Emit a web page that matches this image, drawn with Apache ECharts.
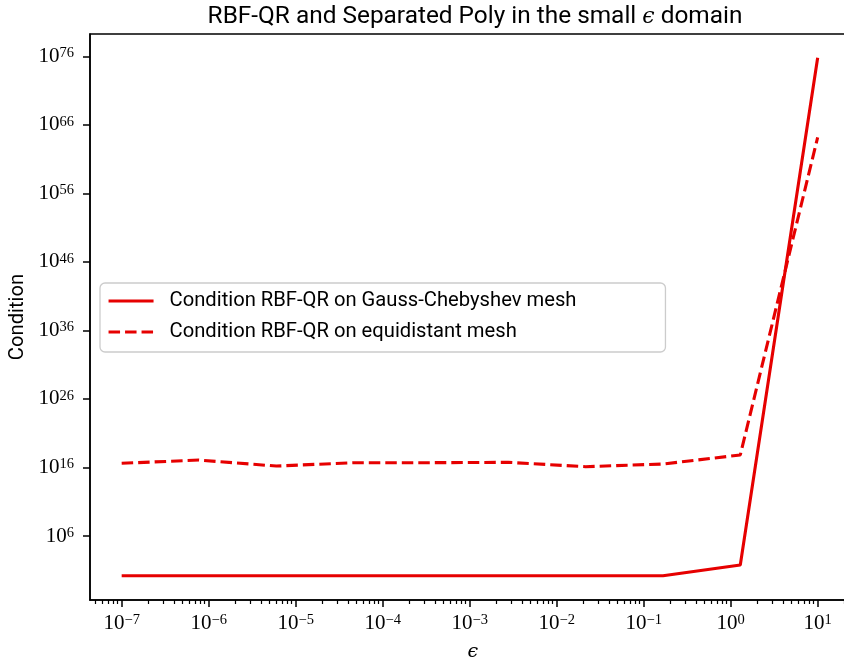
<!DOCTYPE html>
<html><head><meta charset="utf-8">
<script src="https://cdn.jsdelivr.net/npm/echarts@6/dist/echarts.min.js"></script>
<style>html,body{margin:0;padding:0;background:#fff}#c{width:844px;height:658px}</style>
</head><body><div id="c"></div>
<script>
// ---- data ----
const epsValues = [1e-7, 7.74e-7, 5.99e-6, 4.64e-5, 3.59e-4, 2.78e-3, 2.15e-2, 1.67e-1, 1.29, 10];
const condGaussCheb = [1.6, 1.6, 1.6, 1.6, 1.6, 1.6, 1.6, 1.6, 59, 6.3e75];
const condEquidistant = [4.1e16, 1.2e17, 1.6e16, 5.0e16, 5.0e16, 5.6e16, 1.3e16, 3.2e16, 6.6e17, 1.5e64];
const seriesNames = ['Condition RBF-QR on Gauss-Chebyshev mesh', 'Condition RBF-QR on equidistant mesh'];
const xMajorExps = [-7, -6, -5, -4, -3, -2, -1, 0, 1];
const yMajorExps = [6, 16, 26, 36, 46, 56, 66, 76];
const xLimExps = [-7.364, 1.436];
const yLimExps = [-3.339, 79.25];
const titleParts = ['RBF-QR and Separated Poly in the small ', '\u03F5', ' domain'];
const xAxisName = '\u03F5';
const yAxisName = 'Condition';

// ---- build ----
const RED = '#e60000';
const DASH = [11.5, 5];
const xMajor = xMajorExps.map(e => Math.pow(10, e));
const yMajor = yMajorExps.map(e => Math.pow(10, e));
const xMinor = [];
for (let k = -8; k <= 1; k++) for (let m = 2; m <= 9; m++) {
  const v = m * Math.pow(10, k);
  if (Math.log10(v) > xLimExps[0] && Math.log10(v) < xLimExps[1]) xMinor.push(v);
}
function sciLabel(v) {
  const e = Math.round(Math.log10(v));
  return '{b|10}{s|' + String(e).replace('-', '\u2212') + '}';
}
const richTick = {
  b: { fontFamily: 'Liberation Serif', fontSize: 21, lineHeight: 21, verticalAlign: 'bottom', color: '#000' },
  s: { fontFamily: 'Liberation Serif', fontSize: 14.5, lineHeight: 14.5, verticalAlign: 'top', padding: [0, 0, 10, 0], color: '#000' }
};
const pair = (xs, ys) => xs.map((x, i) => [x, ys[i]]);
const gridLeft = 90, gridTop = 34, gridW = 765.6, gridH = 566;

const chart = echarts.init(document.getElementById('c'), null, { renderer: 'canvas' });
chart.setOption({
  animation: false,
  backgroundColor: '#fff',
  title: {
    text: '{a|' + titleParts[0] + '}{e|' + titleParts[1] + '}{a|' + titleParts[2] + '}',
    left: 470, textAlign: 'center', top: 0,
    textStyle: {
      fontWeight: 'normal',
      rich: {
        a: { fontFamily: 'Roboto', fontSize: 24.4, fontWeight: 'normal', color: '#000' },
        e: { fontFamily: 'DejaVu Serif', fontStyle: 'italic', fontWeight: 'normal', fontSize: 22, color: '#000' }
      }
    }
  },
  grid: { left: gridLeft, top: gridTop, width: gridW, height: gridH, show: true, borderColor: '#000', borderWidth: 1.5, containLabel: false, outerBoundsMode: 'none' },
  legend: {
    orient: 'vertical', left: 100, top: 283,
    data: seriesNames,
    itemWidth: 45, itemHeight: 14, itemGap: 9,
    padding: [7, 89, 9, 7],
    itemStyle: { opacity: 0 },
    lineStyle: { width: 3.1 },
    backgroundColor: 'rgba(255,255,255,0.8)', borderColor: '#cccccc', borderWidth: 1.3, borderRadius: 5,
    textStyle: { fontFamily: 'Roboto', fontSize: 20.2, lineHeight: 22, color: '#000', padding: [0, 0, 0, 11] }
  },
  xAxis: [{
    type: 'log', logBase: 10, position: 'bottom',
    min: Math.pow(10, xLimExps[0]), max: Math.pow(10, xLimExps[1]),
    name: xAxisName, nameLocation: 'middle', nameGap: 38,
    nameTextStyle: { fontFamily: 'DejaVu Serif', fontStyle: 'italic', fontSize: 19, color: '#000' },
    axisLine: { show: true, lineStyle: { color: '#000', width: 1.5 } },
    axisTick: { show: true, length: 7, lineStyle: { color: '#000', width: 1.5 }, customValues: xMajor },
    axisLabel: { show: true, margin: 13, customValues: xMajor, formatter: sciLabel, rich: richTick },
    splitLine: { show: false }, minorTick: { show: false }
  }, {
    type: 'log', logBase: 10, position: 'bottom', gridIndex: 0,
    min: Math.pow(10, xLimExps[0]), max: Math.pow(10, xLimExps[1]),
    axisLine: { show: false },
    axisTick: { show: true, length: 4, lineStyle: { color: '#000', width: 1.2 }, customValues: xMinor },
    axisLabel: { show: false }, splitLine: { show: false }
  }],
  yAxis: {
    type: 'log', logBase: 10,
    min: Math.pow(10, yLimExps[0]), max: Math.pow(10, yLimExps[1]),
    name: yAxisName, nameLocation: 'middle', nameGap: 62, nameRotate: 90,
    nameTextStyle: { fontFamily: 'Roboto', fontSize: 20.2, color: '#000' },
    axisLine: { show: true, lineStyle: { color: '#000', width: 1.5 } },
    axisTick: { show: true, length: 7, lineStyle: { color: '#000', width: 1.5 }, customValues: yMajor },
    axisLabel: { show: true, margin: 16, customValues: yMajor, formatter: sciLabel, rich: richTick },
    splitLine: { show: false }
  },
  series: [{
    name: seriesNames[0], type: 'line', xAxisIndex: 0, symbol: 'none', showSymbol: false,
    data: pair(epsValues, condGaussCheb),
    lineStyle: { color: RED, width: 3.1, type: 'solid' }, itemStyle: { color: RED }
  }, {
    name: seriesNames[1], type: 'line', xAxisIndex: 0, symbol: 'none', showSymbol: false,
    data: pair(epsValues, condEquidistant),
    lineStyle: { color: RED, width: 3.1, type: DASH }, itemStyle: { color: RED }
  }]
});
</script></body></html>
